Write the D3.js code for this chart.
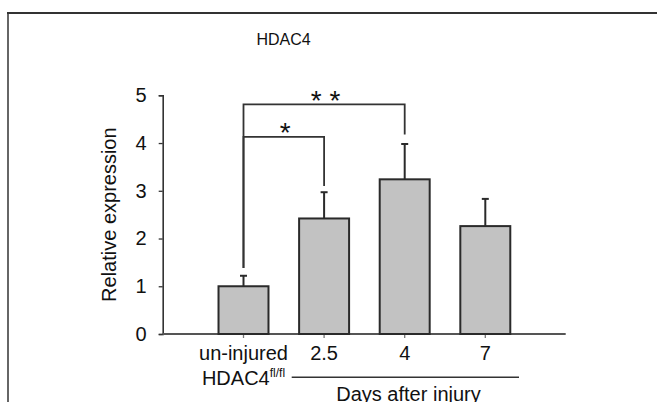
<!DOCTYPE html>
<html>
<head>
<meta charset="utf-8">
<script src="https://cdn.jsdelivr.net/npm/d3@7"></script>
<style>
  html, body { margin: 0; padding: 0; background: #fff; }
  svg { display: block; }
  text { font-family: "Liberation Sans", Arial, sans-serif; fill: #111; }
</style>
</head>
<body>
<script>
// ---- data ----
const categories = ["un-injured", "2.5", "4", "7"];
const values = [1.0, 2.42, 3.24, 2.26];
const errors = [0.22, 0.55, 0.74, 0.57];
const yTicks = [0, 1, 2, 3, 4, 5];
const sigFrom = ["un-injured", "un-injured"];
const sigTo = ["4", "2.5"];
const sigLevel = [4.81, 4.13];
const sigLeftEnd = [1.38, 1.38];
const sigRightEnd = [4.18, 3.10];
const sigLabel = ["* *", "*"];

const W = 657, H = 402;
const svg = d3.select("body").append("svg").attr("width", W).attr("height", H);

// frame
svg.append("line").attr("x1", 7).attr("x2", W).attr("y1", 13).attr("y2", 13)
  .attr("stroke", "#333").attr("stroke-width", 2);
svg.append("line").attr("x1", 8).attr("x2", 8).attr("y1", 13).attr("y2", H)
  .attr("stroke", "#333").attr("stroke-width", 1.5);

const axisX0 = 162.7, axisX1 = 565.7;
const x = d3.scaleBand().domain(categories).range([203.2, 525.6])
  .paddingInner(0.38).paddingOuter(0.19);
const y = d3.scaleLinear().domain([0, 5]).range([334, 95.3]);

// title
svg.append("text").attr("x", 283.5).attr("y", 45).attr("text-anchor", "middle")
  .style("font-size", "16px").text("HDAC4");

// y axis
const yAxis = svg.append("g").attr("transform", `translate(${axisX0},0)`)
  .call(d3.axisLeft(y).tickValues(yTicks).tickSize(4).tickPadding(12).tickFormat(d3.format("d")));
yAxis.select(".domain").attr("stroke", "#333").attr("stroke-width", 1.6);
yAxis.selectAll(".tick line").attr("stroke", "#333").attr("stroke-width", 1.3);
yAxis.selectAll(".tick text").style("font-size", "20px")
  .style("font-family", "'Liberation Sans', Arial, sans-serif").attr("fill", "#111");

svg.append("text")
  .attr("transform", `translate(116,${(y(0) + y(5)) / 2}) rotate(-90)`)
  .attr("text-anchor", "middle").style("font-size", "20px").text("Relative expression");

// x axis line
svg.append("line").attr("x1", axisX0).attr("x2", axisX1).attr("y1", y(0)).attr("y2", y(0))
  .attr("stroke", "#555").attr("stroke-width", 1.8);
const xAxis = svg.append("g").attr("transform", `translate(0,${y(0)})`)
  .call(d3.axisBottom(x).tickSize(4).tickFormat(""));
xAxis.select(".domain").remove();
xAxis.selectAll(".tick line").attr("stroke", "#777").attr("stroke-width", 1.3);

// bars
const data = categories.map((c, i) => ({ c, v: values[i], e: errors[i] }));
svg.selectAll("rect.bar").data(data).enter().append("rect").attr("class", "bar")
  .attr("x", d => x(d.c)).attr("width", x.bandwidth())
  .attr("y", d => y(d.v)).attr("height", d => y(0) - y(d.v))
  .attr("fill", "#c2c2c2").attr("stroke", "#2a2a2a").attr("stroke-width", 2);

// error bars
const cx = c => x(c) + x.bandwidth() / 2;
svg.selectAll("line.err").data(data).enter().append("line")
  .attr("x1", d => cx(d.c)).attr("x2", d => cx(d.c))
  .attr("y1", d => y(d.v)).attr("y2", d => y(d.v + d.e))
  .attr("stroke", "#2a2a2a").attr("stroke-width", 2);
svg.selectAll("line.cap").data(data).enter().append("line")
  .attr("x1", d => cx(d.c) - 3.5).attr("x2", d => cx(d.c) + 3.5)
  .attr("y1", d => y(d.v + d.e)).attr("y2", d => y(d.v + d.e))
  .attr("stroke", "#2a2a2a").attr("stroke-width", 2);

// significance brackets
sigFrom.forEach((f, i) => {
  const x1 = cx(f), x2 = cx(sigTo[i]), yl = y(sigLevel[i]);
  svg.append("path")
    .attr("d", `M${x1},${y(sigLeftEnd[i])}V${yl}H${x2}V${y(sigRightEnd[i])}`)
    .attr("fill", "none").attr("stroke", "#333").attr("stroke-width", 1.8);
  svg.append("text").attr("x", (x1 + x2) / 2 + 1.5).attr("y", yl + 5.5)
    .attr("text-anchor", "middle").style("font-size", "28px").text(sigLabel[i]);
});

// x tick labels
categories.forEach(c => {
  svg.append("text").attr("x", cx(c)).attr("y", 360).attr("text-anchor", "middle")
    .style("font-size", "20px").text(c);
});
const sub = svg.append("text").attr("x", cx(categories[0])).attr("y", 384.5)
  .attr("text-anchor", "middle").style("font-size", "20px");
sub.append("tspan").text("HDAC4");
sub.append("tspan").attr("dy", -7.5).style("font-size", "12px").text("fl/fl");

// days after injury
svg.append("line").attr("x1", 291.7).attr("x2", 519).attr("y1", 377.3).attr("y2", 377.3)
  .attr("stroke", "#333").attr("stroke-width", 1.6);
svg.append("text").attr("x", 408.5).attr("y", 400.5).attr("text-anchor", "middle")
  .style("font-size", "20px").text("Days after injury");
</script>
</body>
</html>
